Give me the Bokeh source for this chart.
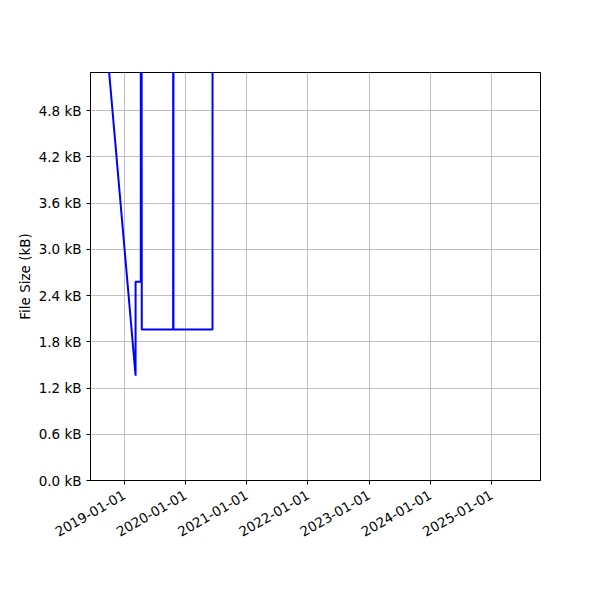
import math
from datetime import datetime
from bokeh.plotting import figure
from bokeh.models import Range1d, FixedTicker, PrintfTickFormatter, DatetimeTickFormatter, ColumnDataSource
from bokeh.embed import file_html
from bokeh.resources import INLINE

# ---- data ----
dates = ["2018-09-01", "2019-03-10", "2019-03-10", "2019-04-10", "2019-04-11",
         "2019-04-16", "2019-10-20", "2019-10-21", "2019-10-22", "2020-06-11", "2020-06-12"]
sizes_kb = [6.1, 1.36, 2.58, 2.58, 20.0, 1.96, 1.96, 20.0, 1.96, 1.96, 20.0]
y_ticks = [0.0, 0.6, 1.2, 1.8, 2.4, 3.0, 3.6, 4.2, 4.8]
x_tick_years = [2019, 2020, 2021, 2022, 2023, 2024, 2025]

x_vals = [datetime.strptime(d, "%Y-%m-%d") for d in dates]
src = ColumnDataSource(dict(x=x_vals, y=sizes_kb))

FONT = "DejaVu Sans"

p = figure(width=592, height=592, output_backend="svg", toolbar_location=None,
           x_axis_type="datetime",
           x_range=Range1d(datetime(2018, 6, 14), datetime(2025, 10, 20)),
           y_range=Range1d(0, 5.293),
           min_border_left=90, min_border_right=52, min_border_top=72, min_border_bottom=112)

p.line("x", "y", source=src, line_color="#0000ff", line_width=2)

tick_ms = [(datetime(y, 1, 1) - datetime(1970, 1, 1)).total_seconds() * 1000 for y in x_tick_years]

p.xaxis.ticker = FixedTicker(ticks=tick_ms)
p.xaxis.formatter = DatetimeTickFormatter(years="%Y-%m-%d", months="%Y-%m-%d", days="%Y-%m-%d")
p.xaxis.major_label_orientation = math.pi / 6
p.xaxis.major_label_standoff = 9
p.yaxis.ticker = FixedTicker(ticks=y_ticks)
p.yaxis.formatter = PrintfTickFormatter(format="%.1f kB")
p.yaxis.axis_label = "File Size (kB)"
p.yaxis.axis_label_text_font = FONT
p.yaxis.axis_label_text_font_size = "13.5px"
p.yaxis.axis_label_text_font_style = "normal"
p.yaxis.axis_label_text_color = "black"
p.yaxis.axis_label_standoff = 3

for ax in (p.xaxis, p.yaxis):
    ax.major_label_text_font = FONT
    ax.major_label_text_font_size = "13.5px"
    ax.major_label_text_color = "black"
    ax.axis_line_color = "black"
    ax.major_tick_line_color = "black"
    ax.major_tick_out = 4
    ax.major_tick_in = 0
    ax.minor_tick_line_color = None

p.xgrid.ticker = FixedTicker(ticks=tick_ms)
p.ygrid.ticker = FixedTicker(ticks=y_ticks)
p.grid.grid_line_color = "#b0b0b0"
p.grid.grid_line_width = 0.8

p.outline_line_color = "black"
p.outline_line_width = 1
p.outline_line_alpha = 1

open("out.html", "w").write(file_html(p, INLINE))
